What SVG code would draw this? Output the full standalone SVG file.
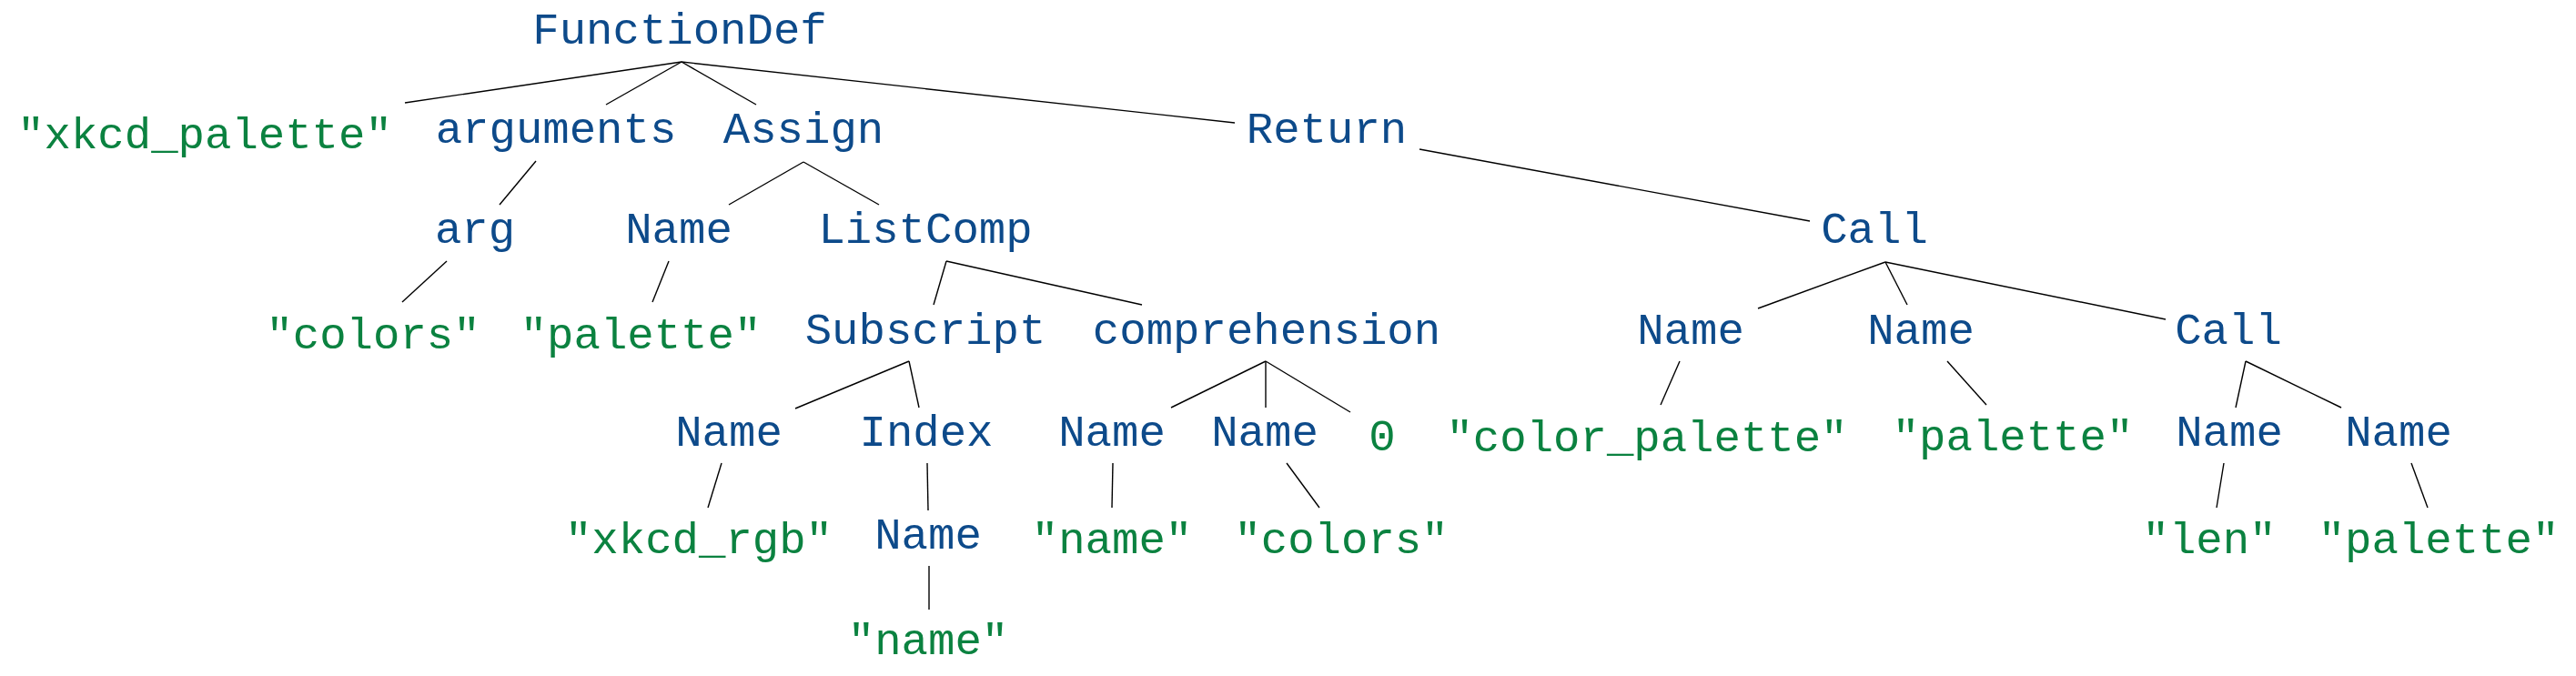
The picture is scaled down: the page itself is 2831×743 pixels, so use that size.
<svg xmlns="http://www.w3.org/2000/svg" width="2831" height="743" viewBox="0 0 2831 743">
<style>
text{font-family:"Liberation Mono","DejaVu Sans Mono",monospace;font-size:49px;text-anchor:middle}
.n{fill:#0d4a8a}
.s{fill:#0b8240}
#edges line{stroke:#000;stroke-width:1.4}
</style>
<rect width="2831" height="743" fill="#fff"/>
<g id="edges">
<line x1="749" y1="68" x2="445" y2="113"/>
<line x1="749" y1="68" x2="666" y2="115"/>
<line x1="749" y1="68" x2="831" y2="115"/>
<line x1="749" y1="68" x2="1357" y2="135"/>
<line x1="589" y1="177" x2="549" y2="225"/>
<line x1="883" y1="178" x2="801" y2="225"/>
<line x1="883" y1="178" x2="966" y2="225"/>
<line x1="1560" y1="164" x2="1989" y2="243"/>
<line x1="491" y1="287" x2="442" y2="332"/>
<line x1="735" y1="287" x2="717" y2="332"/>
<line x1="1040" y1="287" x2="1026" y2="335"/>
<line x1="1040" y1="287" x2="1255" y2="335"/>
<line x1="2072" y1="288" x2="1932" y2="339"/>
<line x1="2072" y1="288" x2="2096" y2="335"/>
<line x1="2072" y1="288" x2="2380" y2="351"/>
<line x1="999" y1="397" x2="874" y2="449"/>
<line x1="999" y1="397" x2="1010" y2="448"/>
<line x1="1391" y1="397" x2="1287" y2="448"/>
<line x1="1391" y1="397" x2="1391" y2="448"/>
<line x1="1391" y1="397" x2="1484" y2="453"/>
<line x1="1846" y1="397" x2="1825" y2="445"/>
<line x1="2140" y1="397" x2="2183" y2="445"/>
<line x1="2468" y1="397" x2="2457" y2="448"/>
<line x1="2468" y1="397" x2="2573" y2="448"/>
<line x1="793" y1="509" x2="778" y2="558"/>
<line x1="1019" y1="509" x2="1020" y2="561"/>
<line x1="1223" y1="509" x2="1222" y2="558"/>
<line x1="1414" y1="509" x2="1450" y2="558"/>
<line x1="2444" y1="509" x2="2436" y2="558"/>
<line x1="2650" y1="509" x2="2668" y2="558"/>
<line x1="1021" y1="622" x2="1021" y2="670"/>
</g>
<g id="n-functiondef"><text class="n" x="747" y="48">FunctionDef</text></g>
<g id="s-xkcd_palette"><text class="s" x="225" y="163">"xkcd_palette"</text></g>
<g id="n-arguments"><text class="n" x="611" y="157">arguments</text></g>
<g id="n-assign"><text class="n" x="883" y="157">Assign</text></g>
<g id="n-return"><text class="n" x="1458" y="157">Return</text></g>
<g id="n-arg"><text class="n" x="522" y="267">arg</text></g>
<g id="n-name1"><text class="n" x="746" y="267">Name</text></g>
<g id="n-listcomp"><text class="n" x="1017" y="267">ListComp</text></g>
<g id="n-call1"><text class="n" x="2060" y="267">Call</text></g>
<g id="s-colors1"><text class="s" x="410" y="383">"colors"</text></g>
<g id="s-palette1"><text class="s" x="704" y="383">"palette"</text></g>
<g id="n-subscript"><text class="n" x="1017" y="378">Subscript</text></g>
<g id="n-comprehension"><text class="n" x="1392" y="378">comprehension</text></g>
<g id="n-name2"><text class="n" x="1858" y="378">Name</text></g>
<g id="n-name3"><text class="n" x="2111" y="378">Name</text></g>
<g id="n-call2"><text class="n" x="2449" y="378">Call</text></g>
<g id="n-name4"><text class="n" x="801" y="490">Name</text></g>
<g id="n-index"><text class="n" x="1018" y="490">Index</text></g>
<g id="n-name5"><text class="n" x="1222" y="490">Name</text></g>
<g id="n-name6"><text class="n" x="1390" y="490">Name</text></g>
<g id="s-zero"><text class="s" x="1519" y="495">0</text></g>
<g id="s-color_palette"><text class="s" x="1810" y="496">"color_palette"</text></g>
<g id="s-palette2"><text class="s" x="2212" y="495">"palette"</text></g>
<g id="n-name7"><text class="n" x="2450" y="490">Name</text></g>
<g id="n-name8"><text class="n" x="2636" y="490">Name</text></g>
<g id="s-xkcd_rgb"><text class="s" x="768" y="608">"xkcd_rgb"</text></g>
<g id="n-name9"><text class="n" x="1020" y="603">Name</text></g>
<g id="s-name1"><text class="s" x="1222" y="608">"name"</text></g>
<g id="s-colors2"><text class="s" x="1474" y="608">"colors"</text></g>
<g id="s-len"><text class="s" x="2428" y="608">"len"</text></g>
<g id="s-palette3"><text class="s" x="2680" y="608">"palette"</text></g>
<g id="s-name2"><text class="s" x="1020" y="719">"name"</text></g>
</svg>
